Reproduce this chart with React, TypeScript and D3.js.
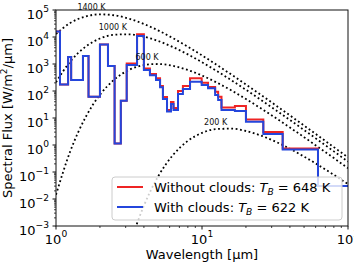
import React from "react";
import * as d3 from "d3";

// step spectra: bin edges [um] and band-averaged flux [W/m2/um]
const binEdges = [1.0, 1.065, 1.21, 1.27, 1.53, 1.67, 2.0, 2.27, 2.52, 2.78, 3.05, 3.59, 4.0, 4.4, 4.84, 5.16, 5.4, 5.76, 6.13, 6.38, 6.85, 7.4, 8.28, 9.95, 11.0, 12.3, 12.9, 13.6, 16.8, 20.0, 26.3, 35.7, 62.3, 100];
const fluxNoClouds = [1.6e4, 174, 1815, 255, 1977, 61.5, 5270, 843, 1.14, 43.7, 1045, 1.26e4, 681, 427, 295, 153, 60, 19.8, 39.1, 23.4, 100, 153, 295, 203, 141, 94, 61.5, 24.5, 27.8, 8.8, 3.03, 0.74, 0.03];
const fluxClouds = [1.6e4, 174, 1815, 255, 1977, 61.5, 5270, 843, 1.14, 43.7, 918, 1.09e4, 600, 381, 255, 137, 50.6, 17.4, 33, 19.8, 77.4, 119, 221, 167, 126, 71, 46.4, 19.8, 18.2, 7.3, 2.55, 0.68, 0.03];

// blackbody reference curves
const bbWavelength = [1, 1.25, 1.6, 2, 2.5, 3.2, 3.6, 4, 4.5, 5, 6.3, 8, 10, 12.5, 16, 20, 25, 32, 40, 50, 63, 80, 100];
const bb1400 = [1.29e4, 3.3e4, 5.8e4, 6.9e4, 6.39e4, 4.68e4, 3.78e4, 3.03e4, 2.3e4, 1.76e4, 9170, 4370, 2085, 961, 396, 174, 75.4, 29.5, 12.5, 5.25, 2.13, 0.833, 0.346];
const bb1000 = [211, 1230, 4437, 8789, 1.217e4, 1.258e4, 1.158e4, 1.03e4, 8640, 7140, 4278, 2266, 1164, 567, 245, 111, 49.3, 19.7, 8.44, 3.59, 1.47, 0.58, 0.242];
const bb600 = [0.0144, 0.572, 11.05, 72.6, 262, 621, 793, 913, 988, 998, 857, 600, 374, 211, 103, 50.5, 23.8, 10.0, 4.45, 1.95, 0.814, 0.327, 0.138];
const bb200 = [2.2e-23, 1.24e-17, 1.06e-12, 2.8e-9, 1.22e-6, 1.93e-4, 1.3e-3, 5.65e-3, 0.0231, 0.0676, 0.414, 1.42, 2.81, 3.9, 4.03, 3.3, 2.29, 1.32, 0.725, 0.372, 0.177, 0.0783, 0.0355];
const bbLabels = ["1400 K", "1000 K", "600 K", "200 K"];
const bbLabelWavelength = [1.75, 2.45, 4.2, 12.4];
const bbLabelFlux = [1.3e5, 2.3e4, 1.8e3, 7.1];

const xTickExps = [0, 1, 2];
const yTickExps = [-3, -2, -1, 0, 1, 2, 3, 4, 5];
const legendNames = ["Without clouds: ", "With clouds: "];
const legendTB = [648, 622];

const RED = "#ee2424";
const BLUE = "#2446dc";
const FONT = "DejaVu Sans, sans-serif";

function minorTicks(exps: number[], lo: number, hi: number) {
  const out: number[] = [];
  exps.forEach(e => {
    for (let k = 2; k <= 9; k++) {
      const v = k * Math.pow(10, e);
      if (v > lo && v < hi) out.push(v);
    }
  });
  return out;
}

const supText = (e: number) => (e < 0 ? "\u2212" + -e : String(e));

export default function App() {
  const W = 354, H = 265;
  const left = 56, right = 348, top = 10, bottom = 226;

  const x = d3.scaleLog().domain([1, 100]).range([left, right]);
  const y = d3.scaleLog().domain([1e-3, 1e5]).range([bottom, top]);

  const step = d3.line<[number, number]>()
    .x(d => x(d[0]))
    .y(d => y(d[1]))
    .curve(d3.curveStepAfter);
  const stepPath = (vals: number[]) =>
    step([...vals.map((v, i) => [binEdges[i], v] as [number, number]),
      [binEdges[binEdges.length - 1], vals[vals.length - 1]]]) || "";

  const smooth = d3.line<[number, number]>()
    .x(d => x(d[0]))
    .y(d => y(d[1]))
    .curve(d3.curveMonotoneX);
  const bbPath = (vals: number[]) =>
    smooth(bbWavelength.map((l, i) => [l, vals[i]] as [number, number]).filter(d => d[1] > 1e-7)) || "";

  const xMinor = minorTicks([0, 1], 1, 100);
  const yMinor = minorTicks([-3, -2, -1, 0, 1, 2, 3, 4], 1e-3, 1e5);

  const legX = 112, legY = 177, legW = 230, legH = 43;
  const rowY = [187, 207];

  return (
    <svg width={W} height={H} style={{ position: "absolute", left: 0, top: 0, background: "#fff" }} fontFamily={FONT}>
      <defs>
        <clipPath id="plot">
          <rect x={left} y={top} width={right - left} height={bottom - top} />
        </clipPath>
      </defs>

      <g clipPath="url(#plot)">
        {[bb1400, bb1000, bb600, bb200].map((vals, i) => (
          <path key={i} d={bbPath(vals)} fill="none" stroke="#000" strokeWidth={1.8} strokeDasharray="1.8,2.6" />
        ))}
        <path d={stepPath(fluxNoClouds)} fill="none" stroke={RED} strokeWidth={2} />
        <path d={stepPath(fluxClouds)} fill="none" stroke={BLUE} strokeWidth={2} />
      </g>

      {bbLabels.map((t, i) => (
        <text key={t} x={x(bbLabelWavelength[i])} y={y(bbLabelFlux[i]) + 3} fontSize={8} textAnchor="middle" fill="#111">{t}</text>
      ))}

      {/* frame */}
      <rect x={left} y={top} width={right - left} height={bottom - top} fill="none" stroke="#111" strokeWidth={1} />

      {/* x ticks */}
      {xTickExps.map(e => (
        <g key={"xt" + e}>
          <line x1={x(10 ** e)} x2={x(10 ** e)} y1={bottom} y2={bottom + 3.5} stroke="#111" />
          <text x={x(10 ** e)} y={244} fontSize={13} textAnchor="middle">10<tspan dy={-7} fontSize={9.1}>{supText(e)}</tspan></text>
        </g>
      ))}
      {xMinor.map(v => (
        <line key={"xm" + v} x1={x(v)} x2={x(v)} y1={bottom} y2={bottom + 2} stroke="#111" strokeWidth={0.8} />
      ))}

      {/* y ticks */}
      {yTickExps.map(e => (
        <g key={"yt" + e}>
          <line x1={left - 3.5} x2={left} y1={y(10 ** e)} y2={y(10 ** e)} stroke="#111" />
          <text x={49} y={y(10 ** e) + 9} fontSize={13} textAnchor="end">10<tspan dy={-7} fontSize={9.1}>{supText(e)}</tspan></text>
        </g>
      ))}
      {yMinor.map(v => (
        <line key={"ym" + v} x1={left - 2} x2={left} y1={y(v)} y2={y(v)} stroke="#111" strokeWidth={0.8} />
      ))}

      {/* axis labels */}
      <text x={(left + right) / 2} y={259} fontSize={13} textAnchor="middle">Wavelength [μm]</text>
      <text transform={`translate(12,${(top + bottom) / 2}) rotate(-90)`} fontSize={13} textAnchor="middle">
        Spectral Flux [W/m<tspan dy={-5} fontSize={9.1}>2</tspan><tspan dy={5}>/μm]</tspan>
      </text>

      {/* legend */}
      <rect x={legX} y={legY} width={legW} height={legH} rx={3} fill="#fff" fillOpacity={0.8} stroke="#ccc" />
      {legendNames.map((name, i) => (
        <g key={name}>
          <line x1={117} x2={143} y1={rowY[i]} y2={rowY[i]} stroke={i === 0 ? RED : BLUE} strokeWidth={2} />
          <text x={154} y={rowY[i] + 4.5} fontSize={13} style={{ whiteSpace: "pre" }}>
            {name}
            <tspan fontStyle="italic">T</tspan>
            <tspan fontStyle="italic" fontSize={9.1} dy={3}>B</tspan>
            <tspan dy={-3}>{" = " + legendTB[i] + " K"}</tspan>
          </text>
        </g>
      ))}
    </svg>
  );
}
